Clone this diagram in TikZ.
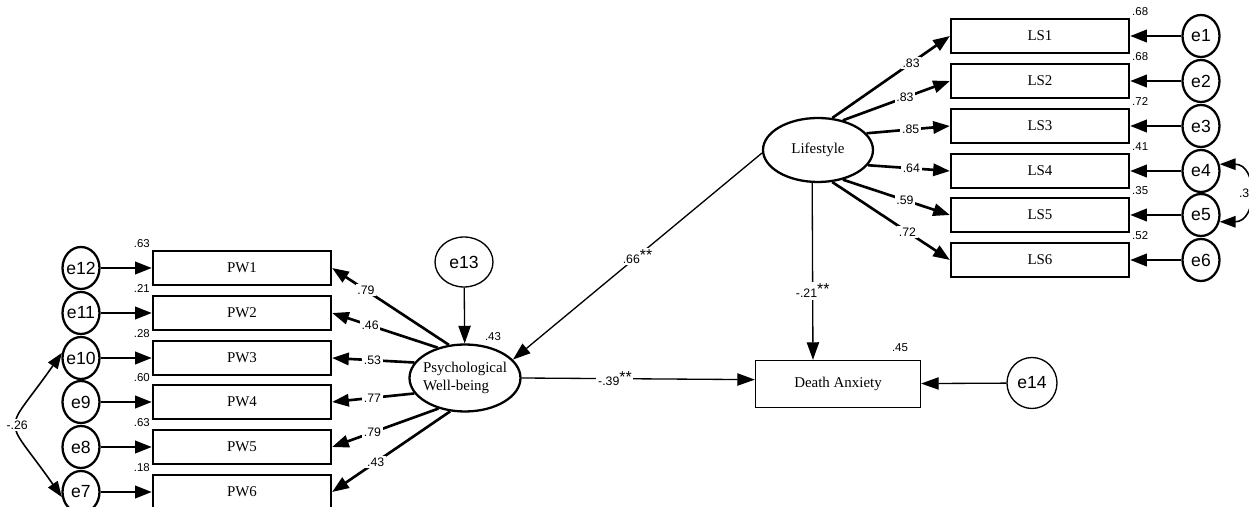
\documentclass[tikz,border=0pt]{standalone}
\usepackage{fontspec}
\setmainfont{Liberation Serif}
\setsansfont{Liberation Sans}
\usetikzlibrary{arrows.meta, positioning, shapes.geometric}

\newcommand{\sigstar}{\raisebox{0.45ex}{\fontsize{9}{9}\selectfont **}}

\begin{document}
\begin{tikzpicture}[x=0.02cm, y=0.02cm,
  indbox/.style={draw, line width=1.3pt, minimum width=3.56cm, minimum height=0.68cm, font=\fontsize{8.5}{10}\selectfont},
  dabox/.style={draw, line width=0.75pt, minimum width=3.3cm, minimum height=0.94cm, font=\fontsize{8.5}{10}\selectfont},
  latvar/.style={draw, ellipse, line width=1.3pt, inner xsep=-4pt, inner ysep=0pt, align=left, font=\fontsize{8.5}{10}\selectfont},
  errsm/.style={draw, ellipse, line width=1.3pt, minimum width=0.74cm, minimum height=0.84cm, inner xsep=-1pt, inner ysep=0pt, font=\sffamily\fontsize{10}{12}\selectfont},
  errbig/.style={draw, ellipse, line width=0.75pt, inner sep=0pt, font=\sffamily\fontsize{10}{12}\selectfont},
  loadln/.style={line width=1.5pt, -{Triangle[length=9.5pt, width=7pt]}},
  regln/.style={line width=0.75pt, -{Triangle[length=10pt, width=7pt]}},
  covln/.style={line width=0.9pt, {Triangle[length=9pt, width=6.5pt]}-{Triangle[length=9pt, width=6.5pt]}},
  coef/.style={fill=white, inner sep=1pt, font=\sffamily\fontsize{7}{8}\selectfont},
  varlab/.style={inner sep=1pt, font=\sffamily\fontsize{6.5}{7}\selectfont}]
\useasboundingbox (0,0) rectangle (1249,507);

% Psychological well-being indicators
\node[indbox, label={[varlab]north west:.63}] (pw1) at (242,239) {PW1};
\node[indbox, label={[varlab]north west:.21}] (pw2) at (242,194) {PW2};
\node[indbox, label={[varlab]north west:.28}] (pw3) at (242,149) {PW3};
\node[indbox, label={[varlab]north west:.60}] (pw4) at (242,105) {PW4};
\node[indbox, label={[varlab]north west:.63}] (pw5) at (242,60) {PW5};
\node[indbox, label={[varlab]north west:.18}] (pw6) at (242,15) {PW6};
\node[errsm] (e12) at (81,239) {e12};
\node[errsm] (e11) at (81,194) {e11};
\node[errsm] (e10) at (81,149) {e10};
\node[errsm] (e9) at (81,105) {e9};
\node[errsm] (e8) at (81,60) {e8};
\node[errsm] (e7) at (81,15) {e7};

% Lifestyle indicators
\node[indbox, label={[varlab]north east:.68}] (ls1) at (1040,471) {LS1};
\node[indbox, label={[varlab]north east:.68}] (ls2) at (1040,426) {LS2};
\node[indbox, label={[varlab]north east:.72}] (ls3) at (1040,381) {LS3};
\node[indbox, label={[varlab]north east:.41}] (ls4) at (1040,336) {LS4};
\node[indbox, label={[varlab]north east:.35}] (ls5) at (1040,292) {LS5};
\node[indbox, label={[varlab]north east:.52}] (ls6) at (1040,247) {LS6};
\node[errsm] (e1) at (1201,471) {e1};
\node[errsm] (e2) at (1201,426) {e2};
\node[errsm] (e3) at (1201,381) {e3};
\node[errsm] (e4) at (1201,336) {e4};
\node[errsm] (e5) at (1201,292) {e5};
\node[errsm] (e6) at (1201,247) {e6};

% Latent variables and outcome
\node[latvar, minimum width=2.22cm, minimum height=1.34cm] (pwb) at (465,129) {Psychological\\Well-being};
\node[latvar, minimum width=2.2cm, minimum height=1.28cm] (life) at (818,357) {Lifestyle};
\node[dabox] (da) at (838,123) {Death Anxiety};
\node[errbig, minimum width=1.16cm, minimum height=1.0cm] (e13) at (464,245) {e13};
\node[errbig, minimum width=1.0cm, minimum height=1.02cm] (e14) at (1032,124) {e14};
\node[varlab] (r2pwb) at (493,170) {.43};
\node[varlab] (r2da) at (900,159) {.45};

% Loadings
\draw[loadln] (pwb.116) -- (pw1.east) node[coef, pos=0.71] {.79};
\draw[loadln] (pwb.132) -- (pw2.east) node[coef, pos=0.64] {.46};
\draw[loadln] (pwb.163) -- (pw3.east) node[coef, pos=0.51] {.53};
\draw[loadln] (pwb.197) -- (pw4.east) node[coef, pos=0.51] {.77};
\draw[loadln] (pwb.229) -- (pw5.east) node[coef, pos=0.62] {.79};
\draw[loadln] (pwb.246) -- (pw6.east) node[coef, pos=0.63] {.43};
\draw[loadln] (life.66) -- (ls1.west) node[coef, pos=0.67] {.83};
\draw[loadln] (life.50) -- (ls2.west) node[coef, pos=0.58] {.83};
\draw[loadln] (life.19) -- (ls3.west) node[coef, pos=0.53] {.85};
\draw[loadln] (life.343) -- (ls4.west) node[coef, pos=0.53] {.64};
\draw[loadln] (life.310) -- (ls5.west) node[coef, pos=0.58] {.59};
\draw[loadln] (life.294) -- (ls6.west) node[coef, pos=0.64] {.72};

% Error terms
\draw[loadln] (e12) -- (pw1);
\draw[loadln] (e11) -- (pw2);
\draw[loadln] (e10) -- (pw3);
\draw[loadln] (e9) -- (pw4);
\draw[loadln] (e8) -- (pw5);
\draw[loadln] (e7) -- (pw6);
\draw[loadln] (e1) -- (ls1);
\draw[loadln] (e2) -- (ls2);
\draw[loadln] (e3) -- (ls3);
\draw[loadln] (e4) -- (ls4);
\draw[loadln] (e5) -- (ls5);
\draw[loadln] (e6) -- (ls6);
\draw[regln] (e13) -- (pwb);
\draw[regln] (e14) -- (da);

% Structural paths
\draw[regln] (life.183) -- (pwb.21) node[coef, pos=0.5] {.66\sigstar};
\draw[regln] (life.260) -- (da.136) node[coef, pos=0.61] {-.21\sigstar};
\draw[regln] (pwb.east) -- (da.177) node[coef, pos=0.4] {-.39\sigstar};

% Covariances
\draw[covln] (e10.165) to[out=235, in=125, looseness=1.85] node[coef] {-.26} (e7.195);
\draw[covln] (e4.20) to[out=0, in=0, looseness=1.7] node[coef, anchor=east, xshift=2pt] {.3} (e5.340);
\end{tikzpicture}
\end{document}
